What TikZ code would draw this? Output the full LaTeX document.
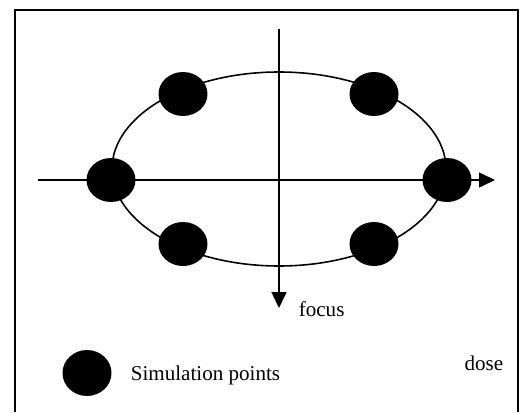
\documentclass[tikz,border=0pt]{standalone}
\usepackage{fontspec}
\setmainfont{Liberation Serif}
\usetikzlibrary{shapes.geometric,arrows.meta}

\tikzset{
  simpoint/.style={ellipse,fill=black,inner sep=0pt,minimum width=0.98cm,minimum height=0.88cm},
  axis/.style={line width=0.9pt,-{Triangle[length=0.32cm,width=0.3cm]}},
}

\begin{document}
\begin{tikzpicture}[x=0.02cm,y=-0.02cm,line width=0.9pt,font=\fontsize{12}{14}\selectfont]
\useasboundingbox (0,0) rectangle (523,412);
% Frame, open at the bottom
\draw (15,412) |- (518,10) -- (518,412);
% Ellipse through the simulation points
\draw (279,169) ellipse [x radius=167,y radius=97];
% Dose and focus axes
\coordinate (dosestart) at (38,180);
\coordinate (doseend) at (495,180);
\coordinate (focusstart) at (279,29);
\coordinate (focusend) at (279,308);
\draw[axis] (dosestart) -- (doseend);
\draw[axis] (focusstart) -- (focusend);
% Six simulation points
\node[simpoint] (ptleft) at (111,180) {};
\node[simpoint] (ptright) at (447,180) {};
\node[simpoint] (ptupleft) at (183,94) {};
\node[simpoint] (ptupright) at (374,94) {};
\node[simpoint] (ptlowleft) at (183,244) {};
\node[simpoint] (ptlowright) at (374,244) {};
% Labels and legend
\node[anchor=base west,inner sep=0pt] (focuslabel) at (298,316) {focus};
\node[anchor=base east,inner sep=0pt] (doselabel) at (504,370) {dose};
\node[simpoint,minimum height=0.92cm] (legendpt) at (87,373) {};
\node[anchor=base west,inner sep=0pt] (legendlabel) at (130,380) {Simulation points};
\end{tikzpicture}
\end{document}
